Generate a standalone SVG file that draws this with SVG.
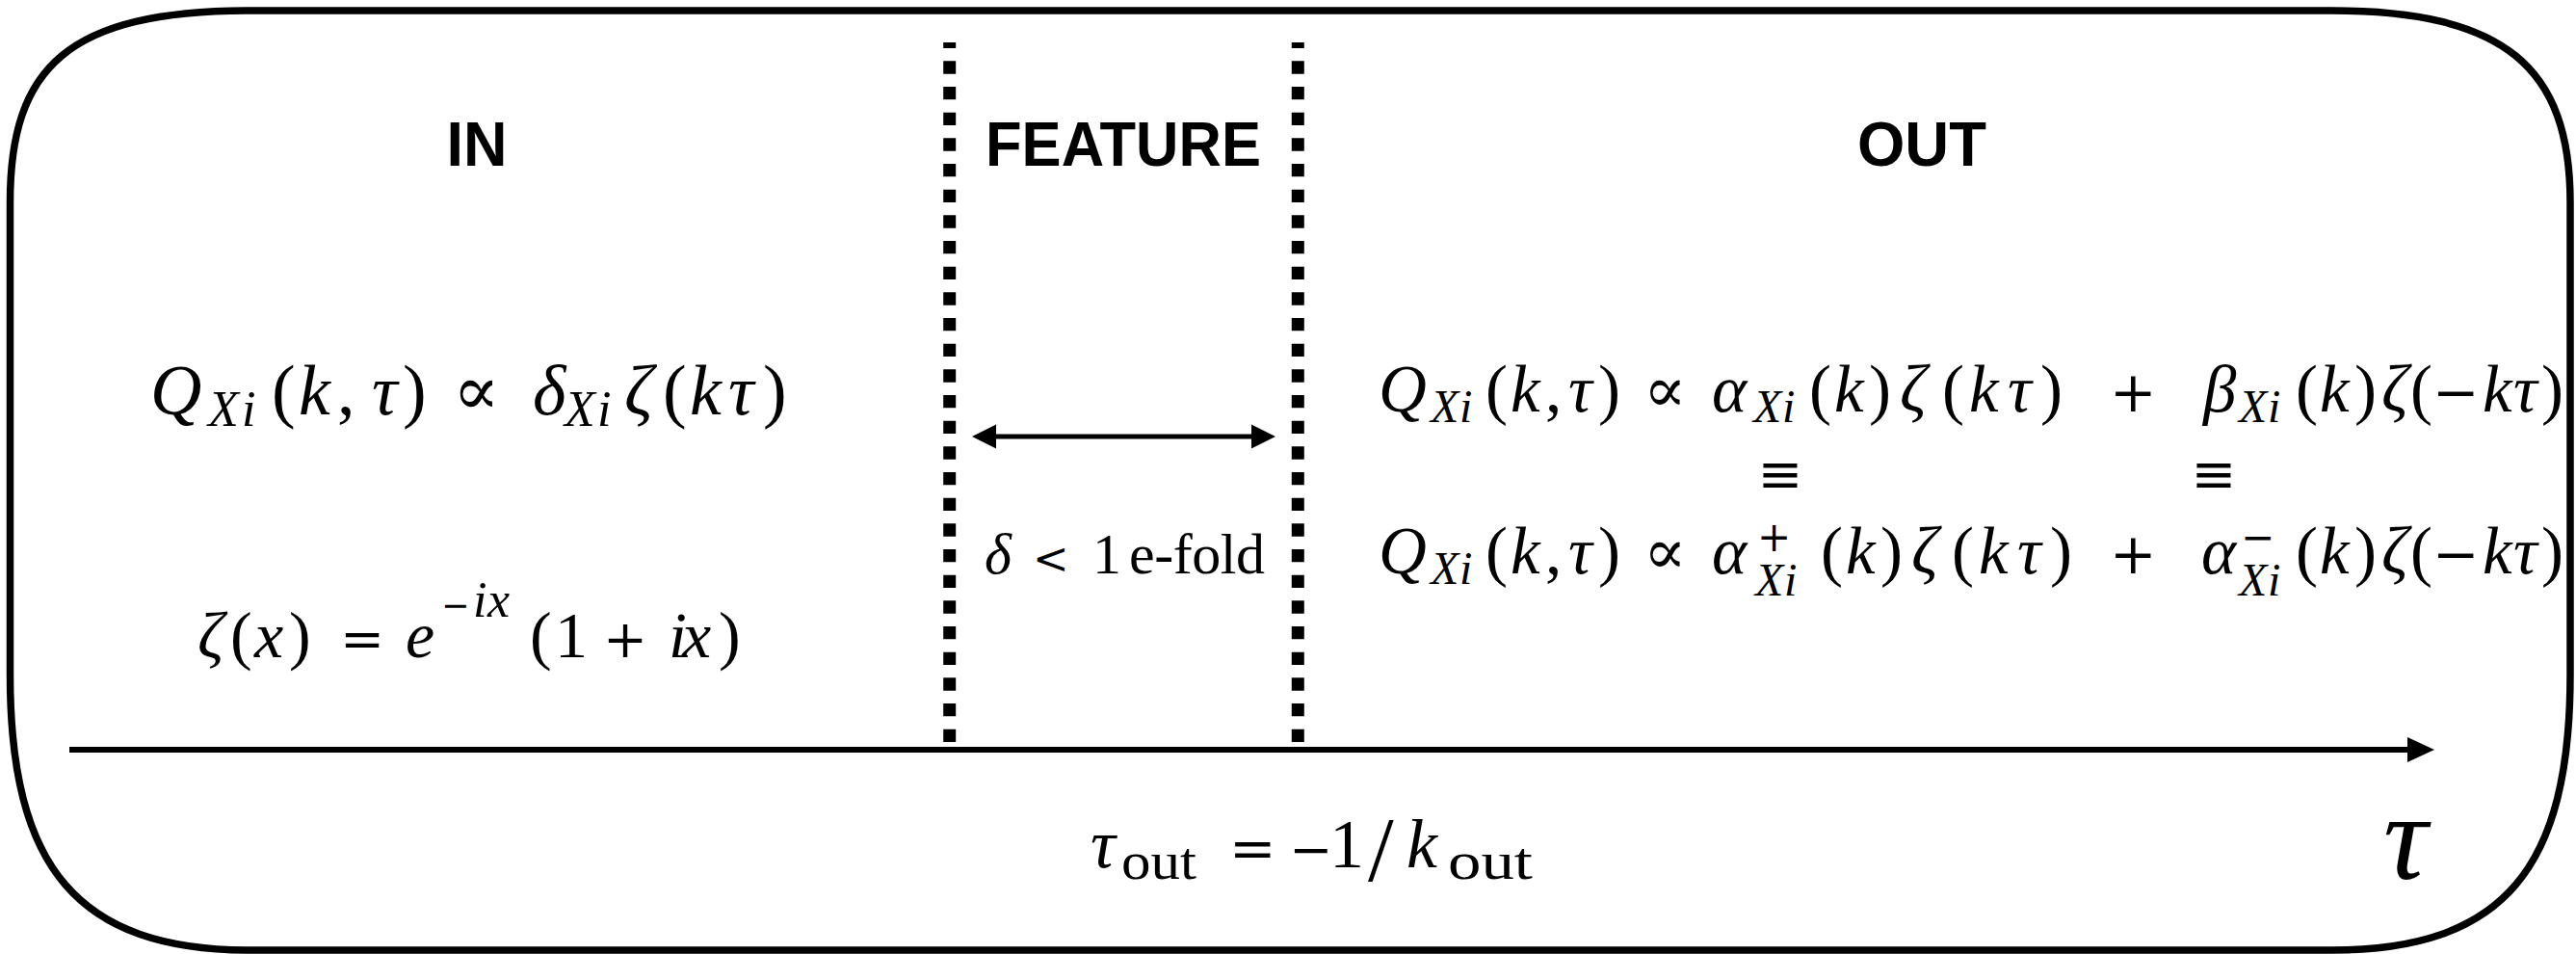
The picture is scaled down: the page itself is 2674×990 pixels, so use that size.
<svg xmlns="http://www.w3.org/2000/svg" width="2674" height="990" viewBox="0 0 2674 990">
<style>
.f{font-family:'Liberation Serif','DejaVu Serif',serif;fill:#000}
.i{font-style:italic}
.o{font-family:'DejaVu Serif',serif;font-style:normal}
.h{font-family:'Liberation Sans',Arial,sans-serif;font-weight:bold;font-size:65px;text-anchor:middle;fill:#000}
.dash{stroke:#000;stroke-width:13;stroke-dasharray:13.333 13.333;stroke-dashoffset:7.333;fill:none}
.ln{stroke:#000;fill:none}
</style>
<rect width="2674" height="990" fill="#fff"/>
<g id="frame">
<path class="ln" stroke-width="7.5" d="M10.5,210 C10.5,70 70,11 260,11 L2420,11 C2600,11 2668,70 2668,210 L2668,700 C2668,900 2600,986 2420,986 L260,986 C80,986 10.5,900 10.5,700 Z"/>
</g>
<g id="connectors">
<line class="dash" x1="985.7" y1="44" x2="985.7" y2="770"/>
<line class="dash" x1="1347.3" y1="44" x2="1347.3" y2="770"/>
<line class="ln" stroke-width="6" x1="72" y1="778" x2="2504" y2="778"/>
<polygon points="2527,778 2499,765 2499,791" fill="#000"/>
<line class="ln" stroke-width="5" x1="1030" y1="453" x2="1303" y2="453"/>
<polygon points="1009,453 1034,440.5 1034,465.5" fill="#000"/>
<polygon points="1324,453 1299,440.5 1299,465.5" fill="#000"/>
</g>
<g id="in">
<text class="h" x="495" y="172" textLength="63" lengthAdjust="spacingAndGlyphs">IN</text>
<text class="f" font-size="74">
<tspan class="i" x="156" y="430">Q</tspan><tspan class="i" x="216" y="442" font-size="52">X</tspan><tspan class="i" x="251" y="442" font-size="52">i</tspan><tspan x="282" y="430">(</tspan><tspan class="i" x="310" y="430">k</tspan><tspan x="350" y="430">,</tspan><tspan class="i" x="386" y="430">τ</tspan><tspan x="418" y="430">)</tspan><tspan class="o" x="470" y="430" font-size="72">∝</tspan><tspan class="i" x="553" y="430">δ</tspan><tspan class="i" x="586" y="442" font-size="52">X</tspan><tspan class="i" x="620" y="442" font-size="52">i</tspan><tspan class="i" x="648" y="430">ζ</tspan><tspan x="688" y="430">(</tspan><tspan class="i" x="716" y="430">k</tspan><tspan class="i" x="756" y="430">τ</tspan><tspan x="792" y="430">)</tspan>
</text>
<text class="f" font-size="68">
<tspan class="i" x="205" y="682">ζ</tspan><tspan x="239" y="682">(</tspan><tspan class="i" x="264" y="682">x</tspan><tspan x="300" y="682">)</tspan><tspan class="o" x="353" y="682" font-size="55">=</tspan><tspan class="i" x="421" y="682">e</tspan><tspan class="o" x="458" y="640" font-size="35">−</tspan><tspan class="i" x="491" y="640" font-size="52">i</tspan><tspan class="i" x="506" y="640" font-size="52">x</tspan><tspan x="550" y="682">(</tspan><tspan x="576" y="682">1</tspan><tspan class="o" x="626" y="682" font-size="55">+</tspan><tspan class="i" x="694" y="682">i</tspan><tspan class="i" x="708" y="682">x</tspan><tspan x="746" y="682">)</tspan>
</text>
</g>
<g id="feature">
<text class="h" x="1166" y="172" textLength="286" lengthAdjust="spacingAndGlyphs">FEATURE</text>
<text class="f" font-size="60">
<tspan class="i" x="1022" y="595">δ</tspan><tspan class="o" x="1072" y="595" font-size="45">&lt;</tspan><tspan x="1134" y="595">1</tspan><tspan x="1172" y="595" textLength="141">e-fold</tspan>
</text>
</g>
<g id="out">
<text class="h" x="1995" y="172" textLength="134" lengthAdjust="spacingAndGlyphs">OUT</text>
<text class="f" font-size="69">
<tspan class="i" x="1431" y="427">Q</tspan><tspan class="i" x="1485" y="438" font-size="48">X</tspan><tspan class="i" x="1515" y="438" font-size="48">i</tspan><tspan x="1542" y="427">(</tspan><tspan class="i" x="1568" y="427">k</tspan><tspan x="1604" y="427">,</tspan><tspan class="i" x="1628" y="427">τ</tspan><tspan x="1659" y="427">)</tspan><tspan class="o" x="1706" y="427" font-size="66">∝</tspan><tspan class="i" x="1777" y="427">α</tspan><tspan class="i" x="1820" y="438" font-size="48">X</tspan><tspan class="i" x="1850" y="438" font-size="48">i</tspan><tspan x="1878" y="427">(</tspan><tspan class="i" x="1904" y="427">k</tspan><tspan x="1940" y="427">)</tspan><tspan class="i" x="1972" y="427">ζ</tspan><tspan x="2016" y="427">(</tspan><tspan class="i" x="2044" y="427">k</tspan><tspan class="i" x="2084" y="427">τ</tspan><tspan x="2118" y="427">)</tspan><tspan class="o" x="2190" y="427" font-size="58">+</tspan><tspan class="i" x="2287" y="427">β</tspan><tspan class="i" x="2324" y="438" font-size="48">X</tspan><tspan class="i" x="2354" y="438" font-size="48">i</tspan><tspan x="2383" y="427">(</tspan><tspan class="i" x="2408" y="427">k</tspan><tspan x="2444" y="427">)</tspan><tspan class="i" x="2472" y="427">ζ</tspan><tspan x="2502" y="427">(</tspan><tspan class="o" x="2525" y="427" font-size="58">−</tspan><tspan class="i" x="2577" y="427">k</tspan><tspan class="i" x="2609" y="427">τ</tspan><tspan x="2638" y="427">)</tspan>
</text>
<text class="f o" font-size="56" text-anchor="middle"><tspan x="1848" y="511">≡</tspan><tspan x="2298" y="511">≡</tspan></text>
<text class="f" font-size="69">
<tspan class="i" x="1431" y="595">Q</tspan><tspan class="i" x="1485" y="606" font-size="48">X</tspan><tspan class="i" x="1515" y="606" font-size="48">i</tspan><tspan x="1542" y="595">(</tspan><tspan class="i" x="1568" y="595">k</tspan><tspan x="1604" y="595">,</tspan><tspan class="i" x="1628" y="595">τ</tspan><tspan x="1659" y="595">)</tspan><tspan class="o" x="1706" y="595" font-size="66">∝</tspan><tspan class="i" x="1777" y="595">α</tspan><tspan class="o" x="1824" y="572" font-size="42">+</tspan><tspan class="i" x="1822" y="618" font-size="48">X</tspan><tspan class="i" x="1852" y="618" font-size="48">i</tspan><tspan x="1890" y="595">(</tspan><tspan class="i" x="1916" y="595">k</tspan><tspan x="1952" y="595">)</tspan><tspan class="i" x="1984" y="595">ζ</tspan><tspan x="2026" y="595">(</tspan><tspan class="i" x="2054" y="595">k</tspan><tspan class="i" x="2094" y="595">τ</tspan><tspan x="2128" y="595">)</tspan><tspan class="o" x="2190" y="595" font-size="58">+</tspan><tspan class="i" x="2285" y="595">α</tspan><tspan class="o" x="2326" y="572" font-size="42">−</tspan><tspan class="i" x="2324" y="618" font-size="48">X</tspan><tspan class="i" x="2354" y="618" font-size="48">i</tspan><tspan x="2383" y="595">(</tspan><tspan class="i" x="2408" y="595">k</tspan><tspan x="2444" y="595">)</tspan><tspan class="i" x="2472" y="595">ζ</tspan><tspan x="2502" y="595">(</tspan><tspan class="o" x="2525" y="595" font-size="58">−</tspan><tspan class="i" x="2577" y="595">k</tspan><tspan class="i" x="2609" y="595">τ</tspan><tspan x="2638" y="595">)</tspan>
</text>
</g>
<g id="axis-labels">
<text class="f" font-size="72">
<tspan class="i" x="1132" y="900">τ</tspan><tspan x="1164" y="912" font-size="54" textLength="78" lengthAdjust="spacingAndGlyphs">out</tspan><tspan class="o" x="1276" y="900" font-size="58">=</tspan><tspan class="o" x="1338" y="900" font-size="54">−</tspan><tspan x="1380" y="900">1</tspan><tspan x="1420" y="914" font-size="96">/</tspan><tspan class="i" x="1460" y="900">k</tspan><tspan x="1503" y="912" font-size="54" textLength="88" lengthAdjust="spacingAndGlyphs">out</tspan>
</text>
<text class="f i" font-size="128" x="2474" y="912">τ</text>
</g>
</svg>
